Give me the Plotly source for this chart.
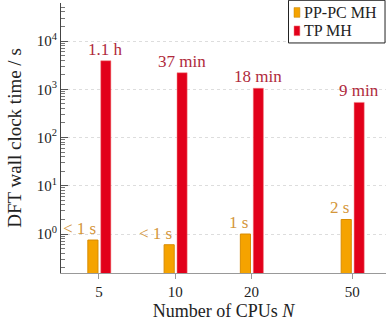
import numpy as np
import plotly.graph_objects as go

# CPU counts and wall clock times (s)
cpus = [5, 10, 20, 50]
ppc_times = [0.75, 0.6, 1.0, 2.0]
tp_times = [3900, 2200, 1050, 535]
ppc_labels = ["&lt; 1 s", "&lt; 1 s", "1 s", "2 s"]
tp_labels = ["1.1 h", "37 min", "18 min", "9 min"]
tick_labels = ["5", "10", "20", "50"]
series_names = ["PP-PC MH", "TP MH"]

FONT = "Liberation Serif"
ORANGE = "#F5A300"
RED = "#E2001A"
ORANGE_TXT = "#D4963A"
RED_TXT = "#B02A3C"

x_pos = np.log10(cpus)
bar_w = 0.04

fig = go.Figure()

fig.add_trace(go.Bar(
    x=x_pos, y=ppc_times, name=series_names[0],
    width=bar_w, offset=-0.044,
    marker=dict(color=ORANGE, line=dict(color="#D98C00", width=1)),
))
fig.add_trace(go.Bar(
    x=x_pos, y=tp_times, name=series_names[1],
    width=bar_w, offset=0.007,
    marker=dict(color=RED, line=dict(color="#F08080", width=0.5)),
))

# labels above the bars
for xp, v, lab in zip(x_pos, tp_times, tp_labels):
    fig.add_annotation(
        x=xp + 0.007 + bar_w / 2, y=np.log10(v), text=lab,
        showarrow=False, xanchor="center", yanchor="bottom", yshift=0,
        font=dict(family=FONT, size=17, color=RED_TXT),
    )
for xp, v, lab in zip(x_pos, ppc_times, ppc_labels):
    fig.add_annotation(
        x=xp - 0.044 + bar_w, y=np.log10(v), text=lab,
        showarrow=False, xanchor="right", yanchor="bottom", yshift=0,
        font=dict(family=FONT, size=17, color=ORANGE_TXT),
    )

# pgfplots-style legend box (drawn by hand, paper coords)
fig.add_shape(type="rect", xref="paper", yref="paper",
              x0=0.70, x1=0.997, y0=0.852, y1=1.01,
              line=dict(color="#222", width=1), fillcolor="white", layer="above")
for i, (name, col) in enumerate(zip(series_names, [ORANGE, RED])):
    yc = 0.965 - i * 0.068
    fig.add_shape(type="rect", xref="paper", yref="paper",
                  x0=0.717, x1=0.735, y0=yc - 0.018, y1=yc + 0.018,
                  line=dict(color="#C08000" if i == 0 else "#F08080", width=0.5),
                  fillcolor=col, layer="above")
    fig.add_annotation(x=0.74, y=yc, xref="paper", yref="paper", text=name,
                       showarrow=False, xanchor="left", yanchor="middle",
                       font=dict(family=FONT, size=16, color="#222"))

fig.update_layout(
    width=386, height=321,
    margin=dict(l=61, r=0, t=3, b=48),
    plot_bgcolor="white", paper_bgcolor="white",
    font=dict(family=FONT, size=15, color="#222"),
    showlegend=False,
    xaxis=dict(
        range=[0.549, 1.832],
        tickvals=x_pos, ticktext=tick_labels,
        ticks="outside", ticklen=5, tickcolor="#999",
        showline=True, linecolor="#999", linewidth=1,
        showgrid=False, zeroline=False,
        title=dict(text="Number of CPUs <i>N</i>", font=dict(size=18), standoff=6),
    ),
    yaxis=dict(
        type="log", range=[-0.808, 4.788],
        tickvals=[1, 10, 100, 1000, 10000],
        ticktext=["10<sup>0</sup>", "10<sup>1</sup>", "10<sup>2</sup>",
                  "10<sup>3</sup>", "10<sup>4</sup>"],
        ticks="inside", ticklen=7, tickcolor="#555",
        minor=dict(ticks="inside", ticklen=4, tickcolor="#777", dtick="D1", showgrid=False),
        showline=True, linecolor="#444", linewidth=1,
        showgrid=True, gridcolor="#DDDDDD", griddash="dot", gridwidth=1,
        zeroline=False,
        title=dict(text="DFT wall clock time / s", font=dict(size=19), standoff=10),
    ),
)

fig.write_html("out.html", config={"displayModeBar": False},
               post_script="document.body.style.margin='0';")
